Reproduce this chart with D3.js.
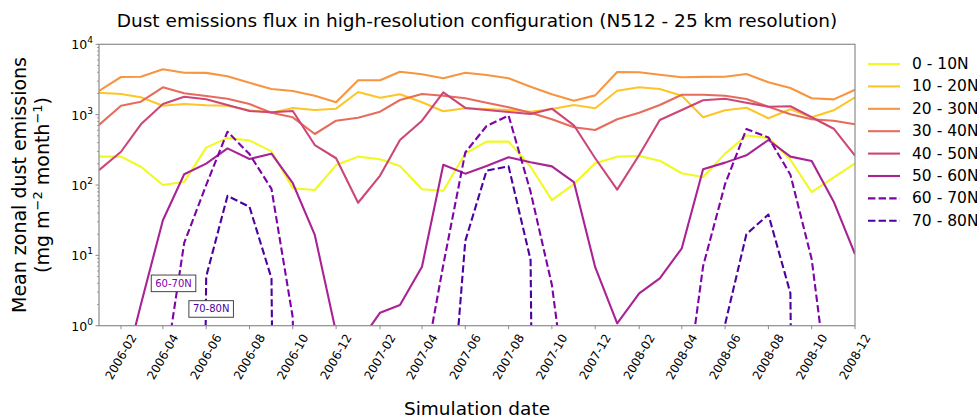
<!DOCTYPE html>
<html>
<head>
<meta charset="utf-8">
<script src="https://cdn.jsdelivr.net/npm/d3@7"></script>
<style>
  body { margin: 0; background: #fff; }
  svg { font-family: "DejaVu Sans", sans-serif; display: block; }
</style>
</head>
<body>
<svg id="chart" width="977" height="418"></svg>
<script>
const months = [
  "2006-01","2006-02","2006-03","2006-04","2006-05","2006-06","2006-07","2006-08","2006-09","2006-10","2006-11","2006-12",
  "2007-01","2007-02","2007-03","2007-04","2007-05","2007-06","2007-07","2007-08","2007-09","2007-10","2007-11","2007-12",
  "2008-01","2008-02","2008-03","2008-04","2008-05","2008-06","2008-07","2008-08","2008-09","2008-10","2008-11","2008-12"
]

const tickLabels = [
  "2006-02","2006-04","2006-06","2006-08","2006-10","2006-12",
  "2007-02","2007-04","2007-06","2007-08","2007-10","2007-12",
  "2008-02","2008-04","2008-06","2008-08","2008-10","2008-12"
]

const yTicks = [1, 10, 100, 1000, 10000]

const bands = ["0 - 10N", "10 - 20N", "20 - 30N", "30 - 40N", "40 - 50N", "50 - 60N", "60 - 70N", "70 - 80N"]

const lat0_10 = [253, 253, 182, 100, 111, 340, 468, 430, 300, 90, 85, 192,
  253, 232, 186, 87, 83, 280, 413, 413, 182, 61, 103, 203,
  253, 258, 221, 147, 130, 279, 505, 468, 230, 79, 128, 203]
const lat10_20 = [2050, 1966, 1765, 1340, 1417, 1357, 1340, 1153, 1066, 1244, 1165, 1216,
  2100, 1740, 1945, 1500, 1117, 1231, 1203, 1165, 1102, 1203, 1371, 1231,
  2190, 2450, 2316, 1860, 917, 1153, 1256, 887, 1191, 917, 1153, 1765]
const lat20_30 = [2170, 3430, 3450, 4410, 3950, 3920, 3510, 2840, 2316, 2170, 1860, 1500,
  3080, 3080, 4080, 3750, 3290, 3950, 3660, 3290, 2500, 1945, 1580, 1880,
  4040, 4000, 3700, 3400, 3440, 3450, 3780, 2880, 2390, 1710, 1650, 2260]
const lat30_40 = [713, 1340, 1530, 2450, 2013, 1840, 1685, 1417, 1066, 917, 531, 820,
  905, 1102, 1615, 1966, 1860, 1710, 1480, 1270, 1066, 859, 661, 605,
  859, 1066, 1371, 1920, 1920, 1860, 1668, 1297, 1012, 859, 820, 729]
const lat40_50 = [163, 297, 729, 1417, 1800, 1653, 1371, 1127, 1080, 1127, 370, 240,
  56, 136, 436, 820, 2080, 1244, 1165, 1090, 1021, 1216, 706, 240,
  86, 267, 839, 1165, 1600, 1685, 1480, 1297, 1314, 917, 631, 261]
const lat50_60 = [0.05, 0.15, 2, 31.6, 142, 201, 332, 234, 279, 106, 19.5, 0.8,
  0.55, 1.53, 1.97, 6.9, 194, 145, 186, 248, 211, 184, 110, 6.8,
  1.08, 2.89, 4.7, 12.6, 168, 208, 264, 436, 253, 220, 58, 10.4]
const lat60_70 = [0.01, 0.01, 0.05, 0.15, 15, 100, 572, 275, 88, 1.3, 0, 0,
  0, 0, 0, 0.16, 7.3, 290, 690, 970, 80, 3.8, 0.015, 0,
  0, 0, 0, 0.04, 7, 103, 625, 475, 140, 8.8, 0.03, 0]
const lat70_80 = [0, 0, 0, 0, 0, 5, 70, 49, 4.7, 0, 0, 0,
  0, 0, 0, 0, 0.002, 16, 160, 184, 8.6, 0, 0, 0,
  0, 0, 0, 0, 0, 1.05, 20, 38, 2.9, 0, 0, 0]

const series = [lat0_10, lat10_20, lat20_30, lat30_40, lat40_50, lat50_60, lat60_70, lat70_80]

const notes = [
  { label: "60-70N", band: 6, date: "2006-04-16", value: 4.0 },
  { label: "70-80N", band: 7, date: "2006-06-08", value: 1.73 }
]


const parseMonth = d3.timeParse("%Y-%m")
const parseDay = d3.timeParse("%Y-%m-%d")

const plotLeft = 99, plotRight = 855, plotTop = 44.3, plotBottom = 325.7
const colors = bands.map((b, i) => d3.interpolatePlasma(1 - i / 8))
const dashed = i => i >= 6

const svg = d3.select("#chart")

const xScale = d3.scaleTime()
  .domain([parseMonth(months[0]), parseMonth(months[months.length - 1])])
  .range([plotLeft, plotRight])

const yScale = d3.scaleLog()
  .domain([1, 10000])
  .range([plotBottom, plotTop])

svg.append("defs").append("clipPath")
  .attr("id", "plotClip")
  .append("rect")
  .attr("x", plotLeft).attr("y", plotTop)
  .attr("width", plotRight - plotLeft).attr("height", plotBottom - plotTop)

const line = d3.line()
  .x((d, i) => xScale(parseMonth(months[i])))
  .y(d => yScale(Math.max(d, 1e-30)))

svg.append("g")
  .attr("clip-path", "url(#plotClip)")
  .selectAll("path")
  .data(series)
  .enter()
  .append("path")
  .attr("d", d => line(d))
  .attr("fill", "none")
  .attr("stroke", (d, i) => colors[i])
  .attr("stroke-width", 2.1)
  .attr("stroke-linejoin", "round")
  .attr("stroke-dasharray", (d, i) => dashed(i) ? "7.4,3.2" : null)

// frame
svg.append("rect")
  .attr("x", plotLeft).attr("y", plotTop)
  .attr("width", plotRight - plotLeft).attr("height", plotBottom - plotTop)
  .attr("fill", "none")
  .attr("stroke", "#8c8c8c")
  .attr("stroke-width", 1.2)

// x axis
const xTicks = tickLabels.map(parseMonth)
const xg = svg.append("g")
xg.selectAll("line")
  .data(xTicks)
  .enter()
  .append("line")
  .attr("x1", d => xScale(d)).attr("x2", d => xScale(d))
  .attr("y1", plotBottom).attr("y2", plotBottom + 3.5)
  .attr("stroke", "#8c8c8c")
  .attr("stroke-width", 1)

const angle = 60 * Math.PI / 180
xg.selectAll("text")
  .data(tickLabels)
  .enter()
  .append("text")
  .attr("font-size", 12)
  .attr("fill", "#000")
  .attr("text-anchor", "middle")
  .attr("dominant-baseline", "central")
  .text(d => d)
  .each(function (d) {
    const w = this.getComputedTextLength()
    const h = w * Math.sin(angle) + 14 * Math.cos(angle)
    d3.select(this).attr("transform", `translate(${xScale(parseMonth(d))},${plotBottom + 6 + h / 2}) rotate(-60)`)
  })

// y axis
const yg = svg.append("g")
const minor = []
yTicks.slice(0, -1).forEach(t => {
  for (let k = 2; k < 10; k++) minor.push(t * k)
})
yg.selectAll("line.minor")
  .data(minor)
  .enter()
  .append("line")
  .attr("class", "minor")
  .attr("x1", plotLeft - 2).attr("x2", plotLeft)
  .attr("y1", d => yScale(d)).attr("y2", d => yScale(d))
  .attr("stroke", "#8c8c8c")
  .attr("stroke-width", 0.8)
yg.selectAll("line.major")
  .data(yTicks)
  .enter()
  .append("line")
  .attr("class", "major")
  .attr("x1", plotLeft - 3.5).attr("x2", plotLeft)
  .attr("y1", d => yScale(d)).attr("y2", d => yScale(d))
  .attr("stroke", "#8c8c8c")
  .attr("stroke-width", 1)

const yLabels = yg.selectAll("text")
  .data(yTicks)
  .enter()
  .append("text")
  .attr("x", plotLeft - 6)
  .attr("y", d => yScale(d) + 5)
  .attr("text-anchor", "end")
  .attr("font-size", 12.5)
yLabels.append("tspan").text("10")
yLabels.append("tspan")
  .attr("font-size", 9)
  .attr("dy", -6)
  .text(d => Math.round(Math.log10(d)))

// annotations
notes.forEach(n => {
  const cx = xScale(parseDay(n.date))
  const cy = yScale(n.value)
  const g = svg.append("g")
  const t = g.append("text")
    .attr("x", cx).attr("y", cy)
    .attr("text-anchor", "middle")
    .attr("dominant-baseline", "central")
    .attr("font-size", 10)
    .attr("fill", colors[n.band])
    .text(n.label)
  const w = t.node().getComputedTextLength()
  g.insert("rect", "text")
    .attr("x", cx - w / 2 - 4).attr("y", cy - 8.3)
    .attr("width", w + 8).attr("height", 16.6)
    .attr("fill", "#fff")
    .attr("stroke", "#444")
    .attr("stroke-width", 1)
})

// titles
svg.append("text")
  .attr("x", (plotLeft + plotRight) / 2)
  .attr("y", 27)
  .attr("text-anchor", "middle")
  .attr("font-size", 18.5)
  .text("Dust emissions flux in high-resolution configuration (N512 - 25 km resolution)")

svg.append("text")
  .attr("x", (plotLeft + plotRight) / 2)
  .attr("y", 415)
  .attr("text-anchor", "middle")
  .attr("font-size", 18.5)
  .text("Simulation date")

const ylab = svg.append("text")
  .attr("transform", `translate(26,${(plotTop + plotBottom) / 2}) rotate(-90)`)
  .attr("text-anchor", "middle")
  .attr("font-size", 19)
ylab.append("tspan").attr("x", 0).attr("y", 0).text("Mean zonal dust emissions")
const l2 = ylab.append("tspan").attr("x", 0).attr("y", 23)
l2.append("tspan").text("(mg m")
l2.append("tspan").attr("font-size", 13).attr("dy", -7).text("\u22122")
l2.append("tspan").attr("dy", 7).text(" month")
l2.append("tspan").attr("font-size", 13).attr("dy", -7).text("\u22121")
l2.append("tspan").attr("dy", 7).text(")")

// legend
const legend = svg.append("g")
  .selectAll("g")
  .data(bands)
  .enter()
  .append("g")
  .attr("transform", (d, i) => `translate(868,${64 + i * 22.4})`)
legend.append("line")
  .attr("x1", 0).attr("x2", 32)
  .attr("stroke", (d, i) => colors[i])
  .attr("stroke-width", 2.1)
  .attr("stroke-dasharray", (d, i) => dashed(i) ? "7.4,3.2" : null)
legend.append("text")
  .attr("x", 44)
  .attr("dominant-baseline", "central")
  .attr("font-size", 15.5)
  .text(d => d)
</script>
</body>
</html>
